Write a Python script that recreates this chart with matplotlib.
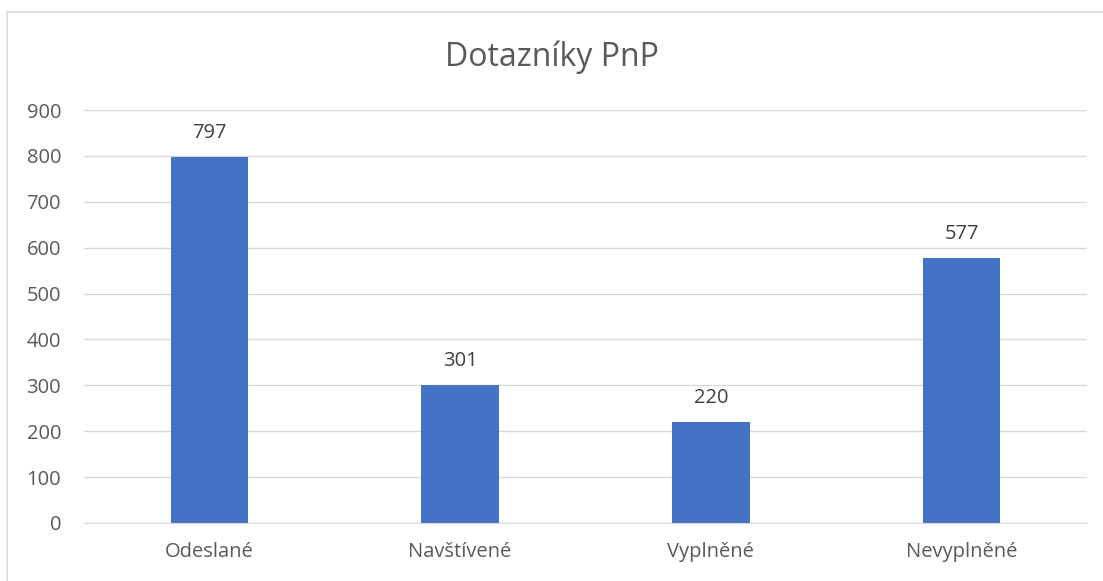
import matplotlib
matplotlib.use("Agg")
import matplotlib.pyplot as plt
from matplotlib.patches import Rectangle

categories = ["Odeslané", "Navštívené", "Vyplněné", "Nevyplněné"]
values = [797, 301, 220, 577]
yticks = [0, 100, 200, 300, 400, 500, 600, 700, 800, 900]

plt.rcParams['font.family'] = ['Open Sans', 'DejaVu Sans']

fig = plt.figure(figsize=(11.03, 5.81), dpi=100)
ax = fig.add_axes([84 / 1103, 1 - 523 / 581, (1087 - 84) / 1103, (523 - 110) / 581])

# chart border
fig.patches.append(Rectangle((7 / 1103, -0.1), 1.2, 1.1 - 12 / 581,
                             transform=fig.transFigure, fill=False,
                             edgecolor="#d9d9d9", linewidth=1.2))

x = range(len(categories))
bars = ax.bar(x, values, width=0.31, color="#4472c4", zorder=3)
for b, v in zip(bars, values):
    ax.text(b.get_x() + b.get_width() / 2, v + 30, str(v), ha="center", va="bottom",
            fontsize=14.5, color="#404040")

ax.set_xlim(-0.5, len(categories) - 0.5)
ax.set_ylim(0, 900)
ax.set_yticks(yticks)
ax.set_xticks(list(x))
ax.set_xticklabels(categories)
ax.tick_params(axis="both", length=0, labelsize=14.5, colors="#595959")
ax.tick_params(axis="x", pad=14)
ax.tick_params(axis="y", pad=16.5)
ax.grid(axis="y", color="#d9d9d9", linewidth=1, zorder=0)
for s in ["top", "right", "left"]:
    ax.spines[s].set_visible(False)
ax.spines["bottom"].set_color("#d9d9d9")
ax.spines["bottom"].set_zorder(4)

fig.text(0.5, 1 - 57 / 581, "Dotazníky PnP", ha="center", va="center",
         fontsize=23, color="#595959")

fig.savefig("out.png", dpi=100)
